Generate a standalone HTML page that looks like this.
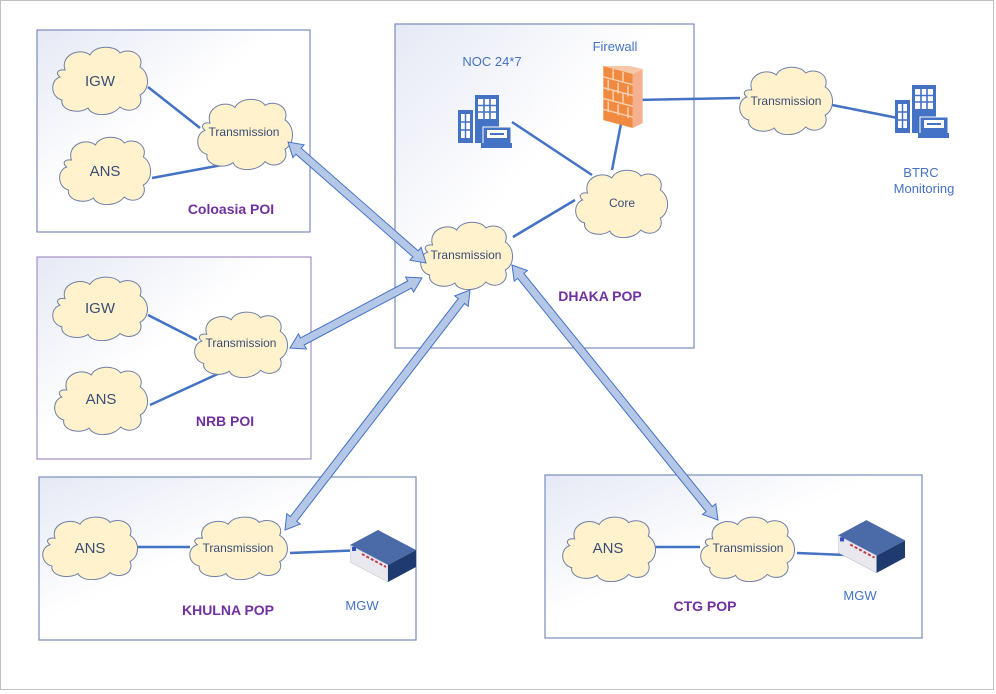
<!DOCTYPE html>
<html><head><meta charset="utf-8"><style>
html,body{margin:0;padding:0;background:#fff}
svg{display:block}
text{font-family:"Liberation Sans",sans-serif}
.t{fill:#3a4d78;font-size:12px;text-anchor:middle}
.c{fill:#3a4d78;font-size:15px;text-anchor:middle}
.h{fill:#7030a0;font-size:14px;font-weight:bold;text-anchor:middle}
.b{fill:#4472c4;font-size:13px;text-anchor:middle}
.ln{stroke:#4472c4;stroke-width:2.5;fill:none}
</style></head><body>
<svg id="s" width="996" height="694" viewBox="0 0 996 694" xmlns="http://www.w3.org/2000/svg">
<defs>
<linearGradient id="g" x1="0" y1="0" x2="1" y2="1">
<stop offset="0" stop-color="#e6e9f5"/><stop offset="0.45" stop-color="#ffffff"/></linearGradient>
<symbol id="cl" viewBox="0 0 100 70" preserveAspectRatio="none">
<path d="M15,25 C10,10 30,2 40,10 C45,0 65,0 70,8 C80,2 95,10 90,22 C100,28 100,45 90,50 C95,62 80,70 70,62 C62,72 42,72 38,63 C28,70 10,65 12,55 C0,52 0,35 10,32 C5,28 8,24 15,25 Z" fill="#fff2cc" stroke="#6f7fa8" stroke-width="1" vector-effect="non-scaling-stroke"/>
</symbol>
<symbol id="bld" viewBox="0 0 54 53">
<rect x="0" y="15" width="15" height="33" fill="#4472c4"/>
<rect x="3" y="19" width="9" height="24" fill="#fff"/>
<path d="M3,27H12M3,35H12M7.5,19V43" stroke="#4472c4" stroke-width="1.5"/>
<rect x="17" y="0" width="24" height="48" fill="#4472c4"/>
<rect x="20" y="4" width="18" height="20" fill="#fff"/>
<path d="M20,10.5H38M20,17H38M26,4V24M32,4V24" stroke="#4472c4" stroke-width="1.6"/>
<rect x="25" y="32" width="28" height="17" fill="#4472c4" stroke="#fff" stroke-width="1"/>
<rect x="29" y="35" width="20" height="8" fill="#fff"/>
<rect x="32" y="38" width="14" height="2" fill="#4472c4"/>
<rect x="23" y="48" width="32" height="5" fill="#4472c4"/>
</symbol>
<symbol id="mgw" viewBox="0 0 66 52">
<polygon points="0,15 28,0 66,20 38,35" fill="#4a6aa8"/>
<polygon points="0,15 38,35 38,52 0,32" fill="#e8e8ee" stroke="#b8bcc8" stroke-width="0.5"/>
<polygon points="38,35 66,20 66,37 38,52" fill="#1f3a6e"/>
<rect x="2" y="17" width="4" height="4" fill="#3050c0"/>
<path d="M12,24 L36,37" stroke="#c04050" stroke-width="2" stroke-dasharray="3 2"/>
</symbol>
<symbol id="fw" viewBox="0 0 40 63">
<polygon points="0,0 30,8 30,63 0,55" fill="#f08a40"/>
<polygon points="30,8 40,3 40,58 30,63" fill="#f5b090"/>
<polygon points="0,0 10,-4 40,3 30,8" fill="#f7c8a8"/>
<path d="M0,11 L30,19 M0,22 L30,30 M0,33 L30,41 M0,44 L30,52 M10,3 V14 M20,6 V17 M5,14 V25 M15,17 V28 M25,20 V31 M10,25 V36 M20,28 V39 M5,36 V47 M15,39 V50 M25,42 V53" stroke="#f8d0b0" stroke-width="1.5"/>
</symbol>
</defs>
<rect x="0.5" y="0.5" width="993" height="689" fill="#fff" stroke="#c0c0c0"/>
<rect x="37" y="30" width="273" height="202" fill="url(#g)" stroke="#7a8cba" stroke-width="1.2"/>
<rect x="37" y="257" width="274" height="202" fill="url(#g)" stroke="#a58fc6" stroke-width="1.2"/>
<rect x="39" y="477" width="377" height="163" fill="url(#g)" stroke="#7a8cba" stroke-width="1.2"/>
<rect x="545" y="475" width="377" height="163" fill="url(#g)" stroke="#7a8cba" stroke-width="1.2"/>
<rect x="395" y="24" width="299" height="324" fill="url(#g)" stroke="#7a8cba" stroke-width="1.2"/>

<g class="ln">
<line x1="148" y1="87" x2="200" y2="128"/><line x1="152" y1="178" x2="222" y2="165"/>
<line x1="148" y1="315" x2="197" y2="340"/><line x1="150" y1="405" x2="222" y2="372"/>
<line x1="512" y1="122" x2="592" y2="175"/><line x1="612" y1="170" x2="626" y2="98"/>
<line x1="632" y1="100" x2="740" y2="98"/><line x1="832" y1="105" x2="898" y2="118"/>
<line x1="513" y1="237" x2="575" y2="200"/>
<line x1="117" y1="547" x2="190" y2="547"/><line x1="290" y1="553" x2="365" y2="550"/>
<line x1="627" y1="547" x2="700" y2="547"/><line x1="797" y1="553" x2="870" y2="556"/>
</g>

<use href="#cl" x="50" y="45" width="100" height="70"/>
<use href="#cl" x="57" y="135" width="96" height="70"/>
<use href="#cl" x="195" y="97" width="100" height="73"/>
<use href="#cl" x="50" y="275" width="100" height="66"/>
<use href="#cl" x="52" y="365" width="98" height="70"/>
<use href="#cl" x="192" y="310" width="98" height="68"/>
<use href="#cl" x="418" y="220" width="97" height="70"/>
<use href="#cl" x="573" y="168" width="97" height="70"/>
<use href="#cl" x="737" y="65" width="98" height="70"/>
<use href="#cl" x="40" y="515" width="100" height="65"/>
<use href="#cl" x="187" y="515" width="103" height="65"/>
<use href="#cl" x="560" y="515" width="98" height="67"/>
<use href="#cl" x="698" y="515" width="99" height="67"/>

<g id="arr"></g>

<use href="#bld" x="458" y="95" width="54" height="53"/>
<use href="#bld" x="895" y="85" width="54" height="53"/>
<use href="#fw" x="603" y="66" width="40" height="62"/>
<use href="#mgw" x="350" y="530" width="66" height="52"/>
<use href="#mgw" x="838" y="520" width="67" height="53"/>

<text class="c" x="100" y="86">IGW</text>
<text class="c" x="105" y="176">ANS</text>
<text class="t" x="244" y="136">Transmission</text>
<text class="c" x="100" y="313">IGW</text>
<text class="c" x="101" y="404">ANS</text>
<text class="t" x="241" y="347">Transmission</text>
<text class="t" x="466" y="259">Transmission</text>
<text class="t" x="622" y="207">Core</text>
<text class="t" x="786" y="105">Transmission</text>
<text class="c" x="90" y="553">ANS</text>
<text class="t" x="238" y="552">Transmission</text>
<text class="c" x="608" y="553">ANS</text>
<text class="t" x="748" y="552">Transmission</text>

<text class="h" x="231" y="214">Coloasia POI</text>
<text class="h" x="225" y="426">NRB POI</text>
<text class="h" x="600" y="301">DHAKA POP</text>
<text class="h" x="228" y="615">KHULNA POP</text>
<text class="h" x="705" y="611">CTG POP</text>
<text class="b" x="492" y="66">NOC 24*7</text>
<text class="b" x="615" y="51">Firewall</text>
<text class="b" x="921" y="177">BTRC</text>
<text class="b" x="924" y="193">Monitoring</text>
<text class="b" x="362" y="610">MGW</text>
<text class="b" x="860" y="600">MGW</text>
</svg>
<script>
(function(){
var A=[[288,142,426,263],[290,348,422,278],[285,530,470,290],[512,265,718,520]];
var g=document.getElementById('arr'),s='';
A.forEach(function(a){
var x1=a[0],y1=a[1],x2=a[2],y2=a[3],dx=x2-x1,dy=y2-y1,L=Math.hypot(dx,dy),ux=dx/L,uy=dy/L,nx=-uy,ny=ux,w=4,hw=8.5,hl=14;
function p(t,o){return (x1+ux*t+nx*o).toFixed(1)+','+(y1+uy*t+ny*o).toFixed(1);}
var pts=[p(0,0),p(hl,hw),p(hl,w),p(L-hl,w),p(L-hl,hw),p(L,0),p(L-hl,-hw),p(L-hl,-w),p(hl,-w),p(hl,-hw)];
s+='<polygon points="'+pts.join(' ')+'" fill="#b4c7e7" stroke="#4472c4" stroke-width="1"/>';
});
g.innerHTML=s;
})();
</script>
</body></html>
